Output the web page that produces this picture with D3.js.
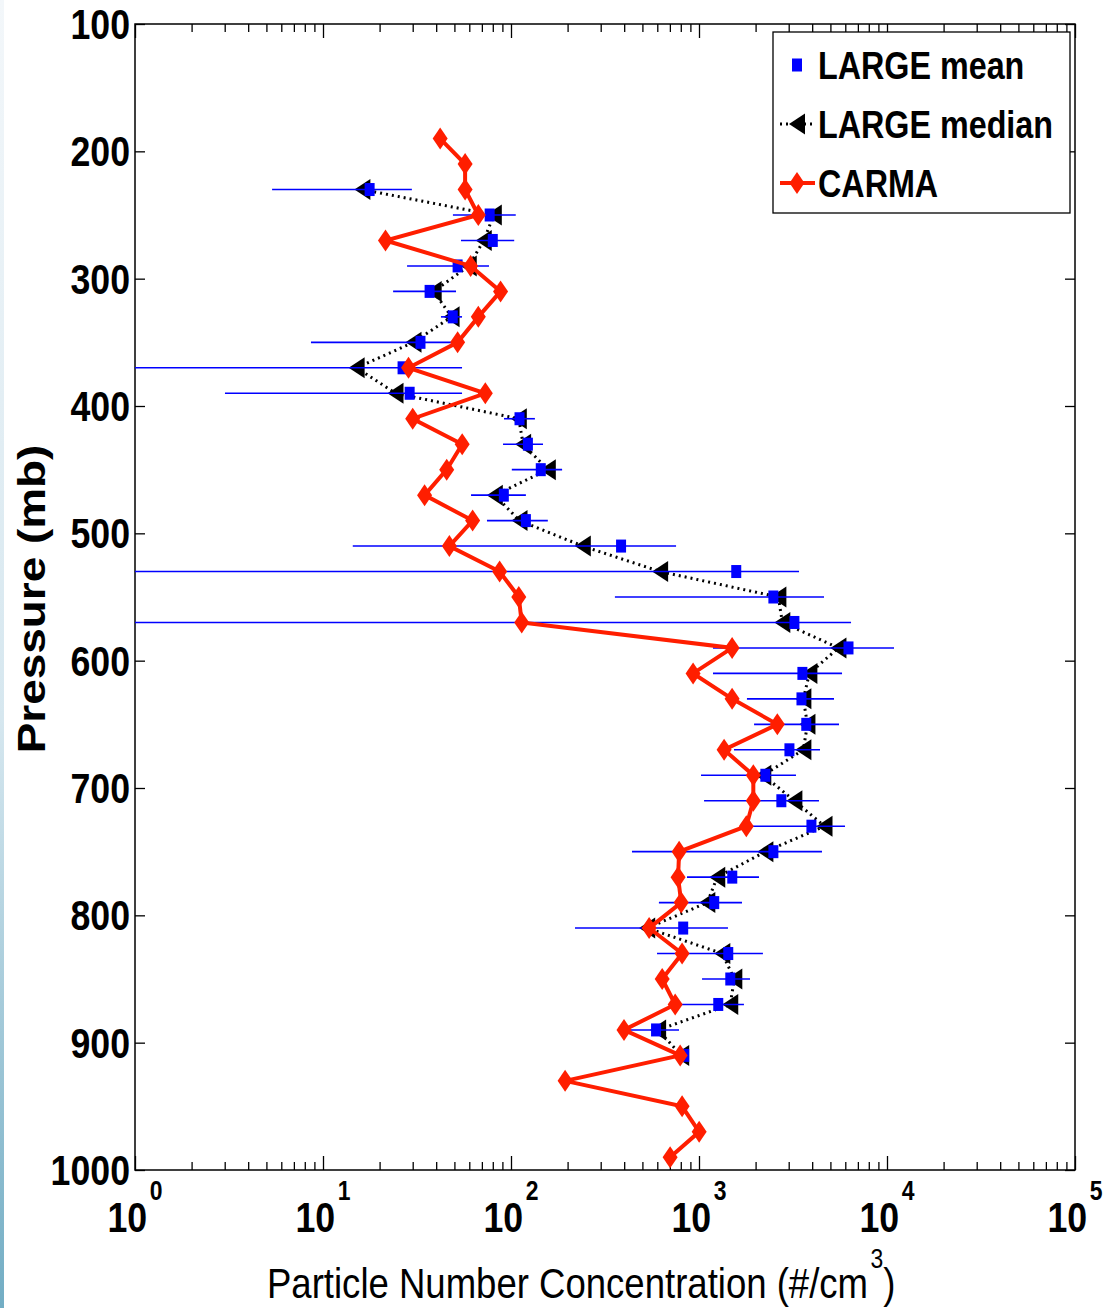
<!DOCTYPE html>
<html>
<head>
<meta charset="utf-8">
<script src="https://cdn.jsdelivr.net/npm/d3@7"></script>
<style>
  body { margin: 0; background: #fff; }
  svg { display: block; }
</style>
</head>
<body>
<div id="chart"></div>
<script>
// pressure levels (mb)
const carmaLevels = [190, 210, 230, 250, 270, 290, 310, 330, 350, 370, 390, 410, 430, 450, 470, 490, 510, 530, 550, 570,
  590, 610, 630, 650, 670, 690, 710, 730, 750, 770, 790, 810, 830, 850, 870, 890, 910, 930, 950, 970, 990];
const largeLevels = [230, 250, 270, 290, 310, 330, 350, 370, 390, 410, 430, 450, 470, 490, 510, 530, 550, 570, 590, 610,
  630, 650, 670, 690, 710, 730, 750, 770, 790, 810, 830, 850, 870, 890, 910];

// concentrations (#/cm3)
const carma = [42, 57, 57, 67, 21.5, 61, 88, 67, 52, 28.5, 73, 30, 55, 45.5, 34.7, 62.5, 47, 87, 110, 114,
  1500, 930, 1500, 2610, 1360, 1945, 1945, 1785, 784, 774, 804, 543, 813, 637, 747, 399, 794, 194, 813, 1002, 702];
const largeMedian = [16.2, 81, 71.6, 59.6, 38.8, 48.3, 30.3, 15.1, 24.3, 110, 116, 157, 82, 111, 241, 621, 2643, 2775, 5515, 3866,
  3590, 3773, 3590, 2198, 3217, 4650, 2254, 1250, 1107, 530, 1330, 1541, 1466, 606, 804];
const largeMean = [17.7, 77, 80, 52, 36.9, 49, 33, 26.5, 28.9, 111, 123, 144, 91.6, 120, 385, 1578, 2487, 3217, 6240, 3548,
  3508, 3720, 3027, 2254, 2742, 3963, 2487, 1503, 1205, 824, 1431, 1467, 1266, 591, 834];
// error bar ends (values below the axis run off the left edge)
const meanLow = [5.36, 49.1, 54.2, 28, 23.6, 42.4, 8.63, 0.2, 3.01, 91.8, 90.7, 101, 61.3, 74.5, 14.4, 0.2, 357, 0.2, 1187, 1187,
  1799, 1963, 1535, 1025, 1064, 1778, 440, 863, 612, 219, 598, 1038, 755, 424, 820];
const meanHigh = [29.7, 106, 104, 76.4, 51, 54.9, 55.6, 54.9, 54.9, 134, 148, 187, 120, 157, 755, 3404, 4624, 6437, 10900, 5765,
  5225, 5555, 4402, 3280, 4347, 5980, 4510, 2085, 1693, 1426, 2188, 1868, 1734, 783, 850];

const yTicks = [100, 200, 300, 400, 500, 600, 700, 800, 900, 1000];
const xTicks = [1, 10, 100, 1e3, 1e4, 1e5];
const xTickExp = ["0", "1", "2", "3", "4", "5"];
const legendLabels = ["LARGE mean", "LARGE median", "CARMA"];

const W = 1105, H = 1308;
const SQ = 0.85; // text in the picture is squeezed sideways
const RED = "#ff1e00", BLUE = "#0000ff";

const x = d3.scaleLog().domain([1, 1e5]).range([135, 1075]);
const y = d3.scaleLinear().domain([100, 1000]).range([24, 1170]);

const svg = d3.select("#chart").append("svg")
  .attr("width", W)
  .attr("height", H)
  .attr("font-family", "'Liberation Sans', Arial, Helvetica, sans-serif");

// slide edge on the left
const grad = svg.append("defs").append("linearGradient")
  .attr("id", "edge").attr("x1", 0).attr("x2", 0).attr("y1", 0).attr("y2", 1);
grad.append("stop").attr("offset", "0%").attr("stop-color", "#f3f7fa");
grad.append("stop").attr("offset", "55%").attr("stop-color", "#d6e7ef");
grad.append("stop").attr("offset", "100%").attr("stop-color", "#72adc4");
svg.append("rect").attr("x", 0).attr("y", 0).attr("width", 4).attr("height", H).attr("fill", "url(#edge)");

svg.append("clipPath").attr("id", "plot")
  .append("rect")
  .attr("x", x.range()[0]).attr("y", y.range()[0])
  .attr("width", x.range()[1] - x.range()[0])
  .attr("height", y.range()[1] - y.range()[0]);

// ticks (inward, mirrored)
const minor = d3.range(0, 5).flatMap((e) => d3.range(2, 10).map((m) => m * 10 ** e));
function ticks(axis, vals, size, tr) {
  const g = svg.append("g")
    .attr("transform", tr)
    .call(axis.tickValues(vals).tickSize(-size).tickFormat(""));
  g.select(".domain").remove();
  g.selectAll("line").attr("stroke", "#000").attr("stroke-width", 1.3);
}
ticks(d3.axisBottom(x), xTicks, 14, `translate(0,${y.range()[1]})`);
ticks(d3.axisBottom(x), minor, 8, `translate(0,${y.range()[1]})`);
ticks(d3.axisTop(x), xTicks, 14, `translate(0,${y.range()[0]})`);
ticks(d3.axisTop(x), minor, 8, `translate(0,${y.range()[0]})`);
ticks(d3.axisLeft(y), yTicks, 10, `translate(${x.range()[0]},0)`);
ticks(d3.axisRight(y), yTicks, 10, `translate(${x.range()[1]},0)`);

svg.append("rect")
  .attr("x", x.range()[0]).attr("y", y.range()[0])
  .attr("width", x.range()[1] - x.range()[0])
  .attr("height", y.range()[1] - y.range()[0])
  .attr("fill", "none").attr("stroke", "#000").attr("stroke-width", 1.5);

// tick labels
svg.append("g").selectAll("text")
  .data(yTicks)
  .join("text")
  .attr("transform", (d) => `translate(130,${y(d) + 15}) scale(${SQ},1)`)
  .attr("text-anchor", "end")
  .attr("font-size", 42)
  .attr("font-weight", "bold")
  .text((d) => d);

const xl = svg.append("g").selectAll("text")
  .data(xTicks)
  .join("text")
  .attr("transform", (d) => `translate(${x(d)},1232) scale(${SQ},1)`)
  .attr("text-anchor", "middle")
  .attr("font-weight", "bold");
xl.append("tspan").attr("font-size", 42).text("10");
xl.append("tspan").attr("font-size", 27).attr("dy", -32).attr("dx", 3).text((d, i) => xTickExp[i]);

// axis titles
const xt = svg.append("text")
  .attr("transform", `translate(267,1298) scale(${SQ},1)`)
  .attr("font-size", 43);
xt.append("tspan").text("Particle Number Concentration (#/cm");
xt.append("tspan").attr("font-size", 27).attr("dy", -30).attr("dx", 3).text("3");
xt.append("tspan").attr("dy", 30).text(")");

svg.append("text")
  .attr("transform", `translate(45,599) rotate(-90) scale(${1 / SQ},1)`)
  .attr("text-anchor", "middle")
  .attr("font-size", 39)
  .attr("font-weight", "bold")
  .text("Pressure (mb)");

// markers
const tri = "M-8,0L8,-10.5L8,10.5Z";
const diamond = "M-7.5,0L0,-11L7.5,0L0,11Z";

const plot = svg.append("g").attr("clip-path", "url(#plot)");

// LARGE median
const med = largeLevels.map((p, i) => ({ p, v: largeMedian[i] }));
plot.append("path")
  .datum(med)
  .attr("fill", "none")
  .attr("stroke", "#000")
  .attr("stroke-width", 3)
  .attr("stroke-dasharray", "2,4")
  .attr("d", d3.line().x((d) => x(d.v)).y((d) => y(d.p)));
plot.append("g").selectAll("path")
  .data(med)
  .join("path")
  .attr("transform", (d) => `translate(${x(d.v)},${y(d.p)})`)
  .attr("d", tri)
  .attr("fill", "#000");

// LARGE mean with error bars
const mean = largeLevels.map((p, i) => ({ p, v: largeMean[i], lo: meanLow[i], hi: meanHigh[i] }));
plot.append("g").selectAll("line")
  .data(mean)
  .join("line")
  .attr("x1", (d) => x(d.lo))
  .attr("x2", (d) => x(d.hi))
  .attr("y1", (d) => y(d.p))
  .attr("y2", (d) => y(d.p))
  .attr("stroke", BLUE)
  .attr("stroke-width", 1.6);
plot.append("g").selectAll("rect")
  .data(mean)
  .join("rect")
  .attr("x", (d) => x(d.v) - 5)
  .attr("y", (d) => y(d.p) - 6.5)
  .attr("width", 10)
  .attr("height", 13)
  .attr("fill", BLUE);

// CARMA
const car = carmaLevels.map((p, i) => ({ p, v: carma[i] }));
plot.append("path")
  .datum(car)
  .attr("fill", "none")
  .attr("stroke", RED)
  .attr("stroke-width", 4)
  .attr("d", d3.line().x((d) => x(d.v)).y((d) => y(d.p)));
plot.append("g").selectAll("path")
  .data(car)
  .join("path")
  .attr("transform", (d) => `translate(${x(d.v)},${y(d.p)})`)
  .attr("d", diamond)
  .attr("fill", RED);

// legend
const lg = svg.append("g");
lg.append("rect")
  .attr("x", 773).attr("y", 32).attr("width", 297).attr("height", 181)
  .attr("fill", "#fff").attr("stroke", "#000").attr("stroke-width", 1.3);
const rowY = [65, 124, 183];
lg.append("rect").attr("x", 792).attr("y", rowY[0] - 6.5).attr("width", 10).attr("height", 13).attr("fill", BLUE);
lg.append("line").attr("x1", 780).attr("x2", 815).attr("y1", rowY[1]).attr("y2", rowY[1])
  .attr("stroke", "#000").attr("stroke-width", 3).attr("stroke-dasharray", "2,4");
lg.append("path").attr("transform", `translate(797,${rowY[1]})`).attr("d", tri).attr("fill", "#000");
lg.append("line").attr("x1", 780).attr("x2", 815).attr("y1", rowY[2]).attr("y2", rowY[2])
  .attr("stroke", RED).attr("stroke-width", 4);
lg.append("path").attr("transform", `translate(797,${rowY[2]})`).attr("d", diamond).attr("fill", RED);
lg.selectAll("text")
  .data(legendLabels)
  .join("text")
  .attr("transform", (d, i) => `translate(818,${rowY[i] + 14}) scale(${SQ},1)`)
  .attr("font-size", 38)
  .attr("font-weight", "bold")
  .text((d) => d);
</script>
</body>
</html>
